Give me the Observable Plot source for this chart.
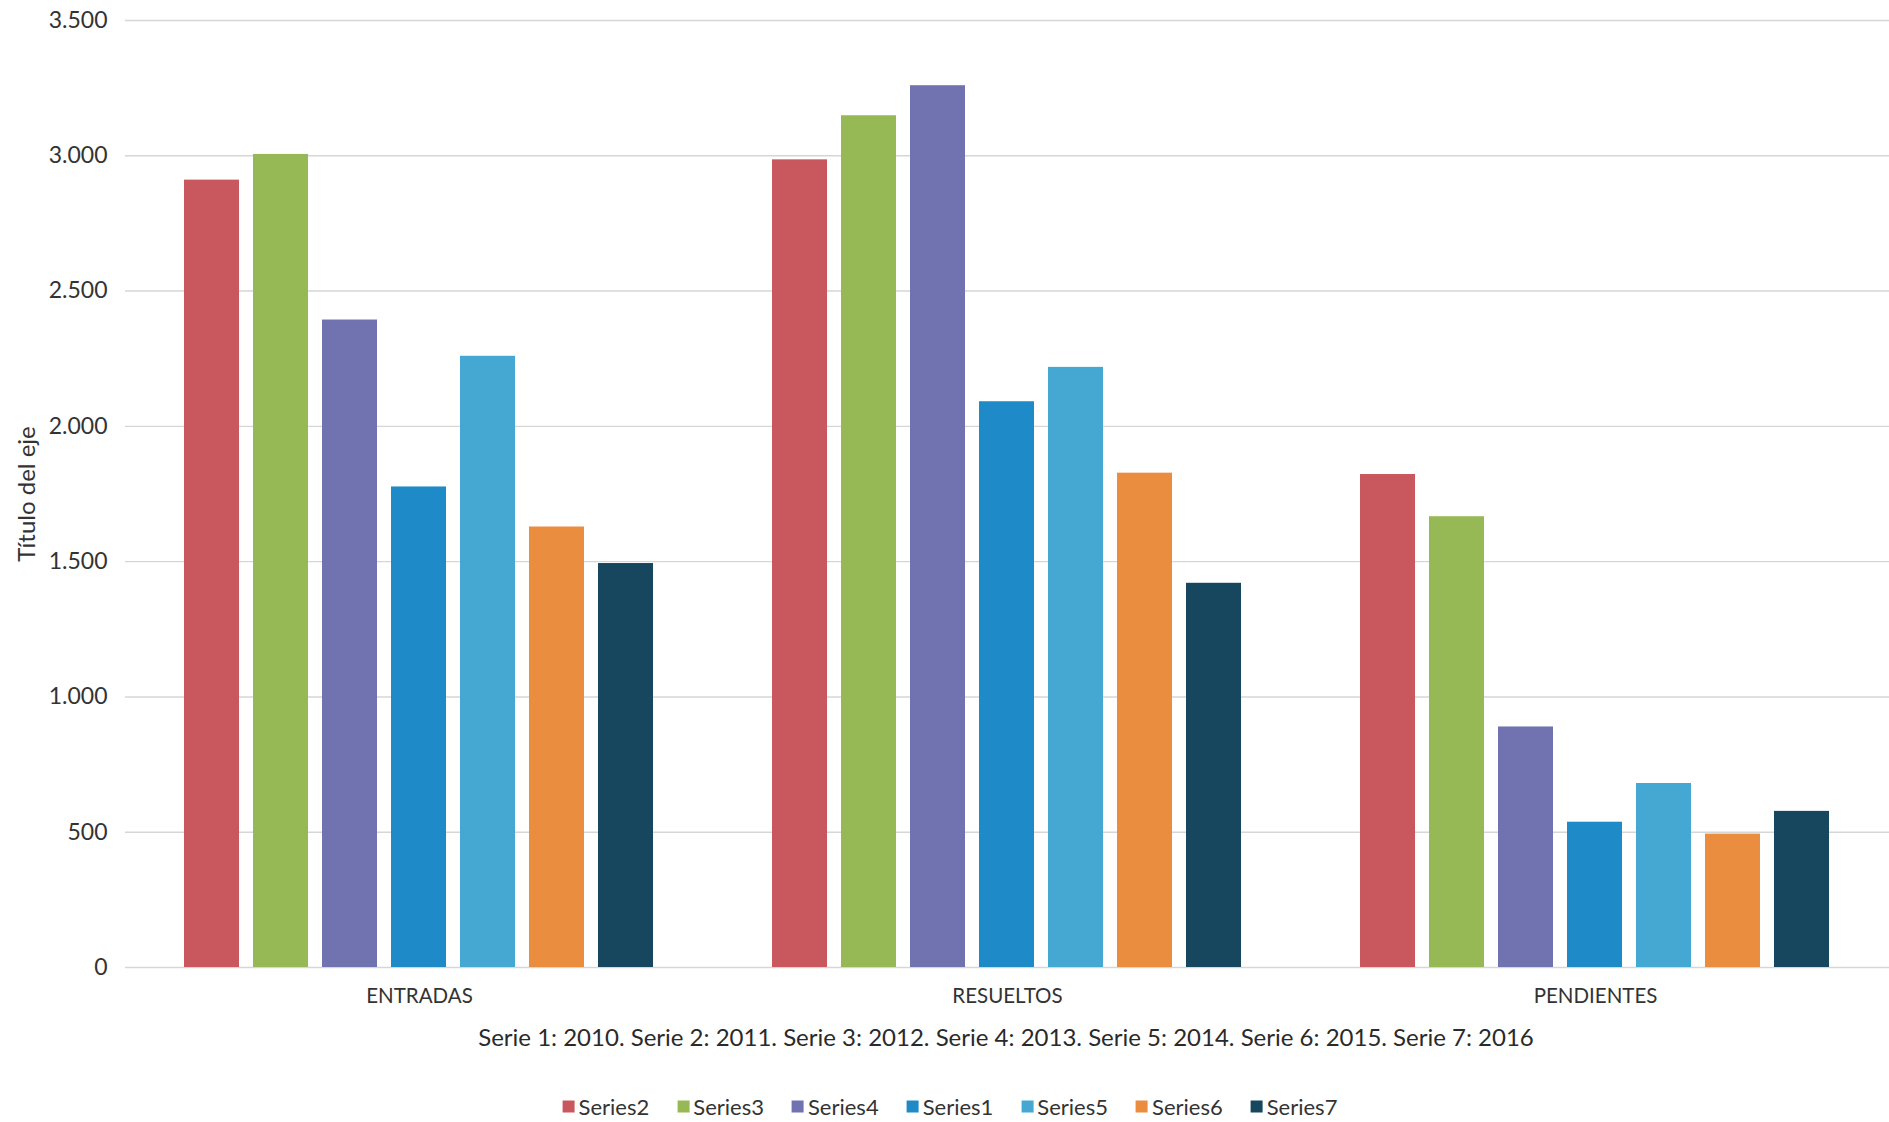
<!DOCTYPE html>
<html>
<head>
<meta charset="utf-8">
<script src="https://cdn.jsdelivr.net/npm/d3@7"></script>
<script src="https://cdn.jsdelivr.net/npm/@observablehq/plot@0.6"></script>
<style>
  html, body { margin: 0; padding: 0; background: #ffffff; }
  #wrap { position: relative; width: 1889px; height: 1122px; font-family: Lato, "Open Sans", sans-serif; color: #333; overflow: hidden; }
  #chart { position: absolute; left: 0; top: 0; }
  .ytitle { position: absolute; left: 25px; top: 494px; transform: translate(-50%, -50%) rotate(-90deg); white-space: nowrap; font-size: 24px; color: #333; }
  .caption { position: absolute; left: 1006px; top: 1036px; transform: translate(-50%, -50%); white-space: nowrap; font-size: 24px; color: #2a2a2a; }
  .legend { position: absolute; left: 950px; top: 1106px; transform: translate(-50%, -50%); display: flex; gap: 28px; white-space: nowrap; font-size: 22px; color: #333; }
  .legend .item { display: flex; align-items: center; gap: 4px; }
  .legend .sw { width: 12px; height: 12px; display: inline-block; }
</style>
</head>
<body>
<div id="wrap">
  <div id="chart"></div>
  <div class="ytitle">Título del eje</div>
  <div class="caption">Serie 1: 2010. Serie 2: 2011. Serie 3: 2012. Serie 4: 2013. Serie 5: 2014. Serie 6: 2015. Serie 7: 2016</div>
  <div class="legend" id="legend"></div>
</div>
<script>
// ---- data ----
const categories = ["ENTRADAS", "RESUELTOS", "PENDIENTES"];
const seriesOrder = ["Series2", "Series3", "Series4", "Series1", "Series5", "Series6", "Series7"];
const series2 = [2910, 2985, 1822];
const series3 = [3005, 3148, 1666];
const series4 = [2393, 3259, 889];
const series1 = [1776, 2091, 537];
const series5 = [2259, 2218, 680];
const series6 = [1628, 1827, 493];
const series7 = [1493, 1420, 577];
const seriesColors = ["#c9585e", "#97b955", "#7173b1", "#1e8bc8", "#45a8d2", "#ea8d3e", "#17475f"];
const yTicks = [0, 500, 1000, 1500, 2000, 2500, 3000, 3500];

const valuesBySeries = {Series1: series1, Series2: series2, Series3: series3, Series4: series4, Series5: series5, Series6: series6, Series7: series7};
const rows = categories.flatMap((c, i) => seriesOrder.map(s => ({category: c, series: s, value: valuesBySeries[s][i]})));

const fmt = d3.formatLocale({decimal: ",", thousands: ".", grouping: [3], currency: ["", ""]}).format(",");

const chart = Plot.plot({
  width: 1889,
  height: 1015,
  marginLeft: 124,
  marginRight: 0,
  marginTop: 20,
  marginBottom: 48,
  style: {fontFamily: "Lato, 'Open Sans', sans-serif", background: "#ffffff", color: "#333"},
  fx: {domain: categories, padding: 0, label: null},
  x: {domain: seriesOrder, paddingInner: 0.2, paddingOuter: 0.85, axis: null},
  y: {domain: [0, 3500], label: null},
  color: {domain: seriesOrder, range: seriesColors},
  marks: [
    Plot.ruleY(yTicks, {stroke: "#d6d6d6", strokeWidth: 1.4}),
    Plot.barY(rows, {fx: "category", x: "series", y: "value", fill: "series"}),
    Plot.axisY(yTicks, {tickSize: 0, tickPadding: 18, tickFormat: fmt, fontSize: 23, fill: "#333", label: null}),
    Plot.axisFx({anchor: "bottom", tickSize: 0, tickPadding: 21, fontSize: 20.5, fill: "#333", label: null})
  ]
});
document.getElementById("chart").appendChild(chart);

const legend = document.getElementById("legend");
seriesOrder.forEach((s, i) => {
  const item = document.createElement("span");
  item.className = "item";
  const sw = document.createElement("span");
  sw.className = "sw";
  sw.style.background = seriesColors[i];
  const t = document.createElement("span");
  t.textContent = s;
  item.appendChild(sw);
  item.appendChild(t);
  legend.appendChild(item);
});
</script>
</body>
</html>
